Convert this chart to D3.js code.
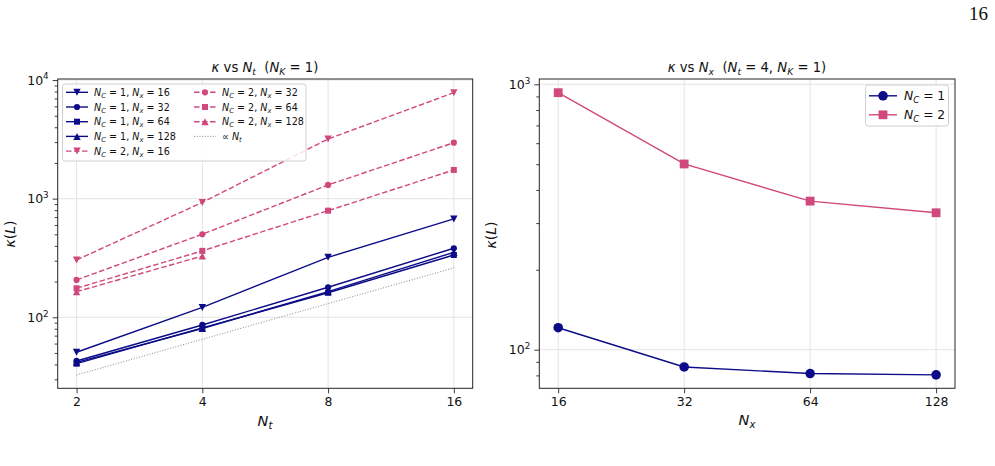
<!DOCTYPE html>
<html><head><meta charset="utf-8">
<script src="https://cdn.jsdelivr.net/npm/d3@7"></script>
<style>
body{margin:0;background:#fff;}
svg text{font-family:"DejaVu Sans",sans-serif;white-space:pre;}
</style></head>
<body><svg id="c" width="995" height="466"></svg>
<script>
// ---------- data ----------
const ntVals = [2, 4, 8, 16];
const ntTickLabels = ["2", "4", "8", "16"];
const nxVals = [16, 32, 64, 128];
const nxTickLabels = ["16", "32", "64", "128"];

// kappa(L) vs N_t, N_C = 1
const nc1_nx16  = [50.7, 121, 320, 675];
const nc1_nx32  = [42.8, 86.1, 179, 382];
const nc1_nx64  = [40.6, 81.3, 161, 335];
const nc1_nx128 = [41.7, 80.4, 164.5, 353];
// kappa(L) vs N_t, N_C = 2
const nc2_nx16  = [304, 930, 3184, 7834];
const nc2_nx32  = [206.5, 501, 1305, 2965];
const nc2_nx64  = [175.6, 363, 792, 1746];
const nc2_nx128 = [164.4, 328, null, null];
// reference line proportional to N_t
const propNt = [32.6, 65.2, 130.4, 260.8];

// kappa(L) vs N_x at N_t = 4
const nxSweepNC1 = [121, 86.1, 81.3, 80.4];
const nxSweepNC2 = [930, 501, 363, 328];

// ---------- style ----------
const NAVY = "#0c0c88", PINK = "#d0487c";
const svg = d3.select("#c");
svg.append("rect").attr("width",995).attr("height",466).attr("fill","#fff");

function mathText(g, parts, fs){
  let off = 0;
  parts.forEach(([s,t])=>{
    const ts = g.append("tspan").text(s);
    let target = 0, size = fs, it = false;
    if(t==="i"){it=true;}
    else if(t==="sub"){it=true;size=fs*0.7;target=fs*0.22;}
    else if(t==="sup"){size=fs*0.7;target=-fs*0.42;}
    ts.attr("font-size",size).attr("font-style",it?"italic":"normal");
    if(target!==off){ts.attr("dy",target-off); off=target;}
  });
  return g;
}

function symbol(g, type, cx, cy, s, color){
  if(type==="circle"){
    g.append("circle").attr("cx",cx).attr("cy",cy).attr("r",s/2).attr("fill",color);
  } else if(type==="square"){
    g.append("rect").attr("x",cx-s/2).attr("y",cy-s/2).attr("width",s).attr("height",s).attr("fill",color);
  } else if(type==="tdown"){
    const h=s*0.95;
    g.append("path").attr("d",`M${cx-s/2},${cy-h/2}L${cx+s/2},${cy-h/2}L${cx},${cy+h/2}Z`).attr("fill",color);
  } else if(type==="tup"){
    const h=s*0.95;
    g.append("path").attr("d",`M${cx-s/2},${cy+h/2}L${cx+s/2},${cy+h/2}L${cx},${cy-h/2}Z`).attr("fill",color);
  }
}

function yLabelFmt(sel){
  sel.selectAll(".tick text").each(function(d){
    const t=d3.select(this); t.text("");
    const e=Math.round(Math.log10(d));
    mathText(t,[["10","r"],[String(e),"sup"]],12.5);
  });
}

function frame(g,x0,x1,y0,y1){
  g.append("rect").attr("x",x0).attr("y",y0).attr("width",x1-x0).attr("height",y1-y0)
   .attr("fill","none").attr("stroke","#262626").attr("stroke-width",1);
}

function minorVals(domain){
  const out=[];
  const lo=Math.floor(Math.log10(domain[0])), hi=Math.ceil(Math.log10(domain[1]));
  for(let e=lo;e<=hi;e++) for(let m=2;m<=9;m++){const v=m*Math.pow(10,e); if(v>=domain[0]&&v<=domain[1]) out.push(v);}
  return out;
}
function majorVals(domain){
  const out=[];
  const lo=Math.ceil(Math.log10(domain[0])-1e-9), hi=Math.floor(Math.log10(domain[1])+1e-9);
  for(let e=lo;e<=hi;e++) out.push(Math.pow(10,e));
  return out;
}

function drawAxes(g, x, y, xVals, xLabels){
  const [X0,X1]=x.range(), [Y1,Y0]=y.range();
  const yMaj=majorVals(y.domain());
  g.append("g").selectAll("line").data(xVals).join("line")
    .attr("x1",d=>x(d)).attr("x2",d=>x(d)).attr("y1",Y0).attr("y2",Y1)
    .attr("stroke","#e4e4e4").attr("stroke-width",1);
  g.append("g").selectAll("line").data(yMaj).join("line")
    .attr("x1",X0).attr("x2",X1).attr("y1",d=>y(d)).attr("y2",d=>y(d))
    .attr("stroke","#e4e4e4").attr("stroke-width",1);
}
function drawTicks(g, x, y, xVals, xLabels){
  const [X0,X1]=x.range(), [Y1,Y0]=y.range();
  const yMaj=majorVals(y.domain()), yMin=minorVals(y.domain());
  g.append("g").attr("transform",`translate(0,${Y1})`)
    .call(d3.axisBottom(x).tickValues(xVals).tickFormat((d,i)=>xLabels[i]).tickSize(5).tickPadding(4));
  const ya=g.append("g").attr("transform",`translate(${X0},0)`)
    .call(d3.axisLeft(y).tickValues(yMaj).tickSize(5).tickPadding(4));
  g.append("g").attr("transform",`translate(${X0},0)`)
    .call(d3.axisLeft(y).tickValues(yMin).tickSize(3).tickFormat(""));
  g.selectAll(".domain").remove();
  g.selectAll(".tick line").attr("stroke","#262626").attr("stroke-width",0.9);
  g.selectAll(".tick text").attr("font-size",12.5).attr("fill","#111").attr("font-family","DejaVu Sans");
  yLabelFmt(ya);
}

// ---------- left panel ----------
const L = svg.append("g");
const xL = d3.scaleLog().base(2).domain([2*Math.pow(2,-0.15), 16*Math.pow(2,0.15)]).range([57.7,472.7]);
const yL = d3.scaleLog().domain([Math.pow(10,1.401), Math.pow(10,4.009)]).range([388.3,79]);
drawAxes(L,xL,yL,ntVals,ntTickLabels);

const leftSeries = [
  {vals:nc1_nx16, color:NAVY, dash:null, m:"tdown", lab:[["N","i"],["C","sub"],[" = 1, ","r"],["N","i"],["x","sub"],[" = 16","r"]]},
  {vals:nc1_nx32, color:NAVY, dash:null, m:"circle", lab:[["N","i"],["C","sub"],[" = 1, ","r"],["N","i"],["x","sub"],[" = 32","r"]]},
  {vals:nc1_nx64, color:NAVY, dash:null, m:"square", lab:[["N","i"],["C","sub"],[" = 1, ","r"],["N","i"],["x","sub"],[" = 64","r"]]},
  {vals:nc1_nx128, color:NAVY, dash:null, m:"tup", lab:[["N","i"],["C","sub"],[" = 1, ","r"],["N","i"],["x","sub"],[" = 128","r"]]},
  {vals:nc2_nx16, color:PINK, dash:"5.5,2.5", m:"tdown", lab:[["N","i"],["C","sub"],[" = 2, ","r"],["N","i"],["x","sub"],[" = 16","r"]]},
  {vals:nc2_nx32, color:PINK, dash:"5.5,2.5", m:"circle", lab:[["N","i"],["C","sub"],[" = 2, ","r"],["N","i"],["x","sub"],[" = 32","r"]]},
  {vals:nc2_nx64, color:PINK, dash:"5.5,2.5", m:"square", lab:[["N","i"],["C","sub"],[" = 2, ","r"],["N","i"],["x","sub"],[" = 64","r"]]},
  {vals:nc2_nx128, color:PINK, dash:"5.5,2.5", m:"tup", lab:[["N","i"],["C","sub"],[" = 2, ","r"],["N","i"],["x","sub"],[" = 128","r"]]},
  {vals:propNt, color:"#8a8a8a", dash:"1,1.7", m:null, lw:1, lab:[["∝ ","r"],["N","i"],["t","sub"]]}
];
const lineL = d3.line().defined(d=>d[1]!=null).x(d=>xL(d[0])).y(d=>yL(d[1]));
leftSeries.forEach(s=>{
  const pts = ntVals.map((n,i)=>[n,s.vals[i]]);
  L.append("path").attr("d",lineL(pts)).attr("fill","none").attr("stroke",s.color)
    .attr("stroke-width",s.lw||1.4).attr("stroke-dasharray",s.dash);
  if(s.m){
    const mg=L.append("g");
    pts.filter(p=>p[1]!=null).forEach(p=>symbol(mg,s.m,xL(p[0]),yL(p[1]),s.m==="circle"?6.2:(s.m==="square"?6:7.4),s.color));
  }
});
frame(L,57.7,472.7,79,388.3);
drawTicks(L,xL,yL,ntVals,ntTickLabels);

// left legend
const lg = L.append("g");
lg.append("rect").attr("x",62.5).attr("y",84).attr("width",243.5).attr("height",77).attr("rx",2.5)
  .attr("fill","#fff").attr("fill-opacity",0.85).attr("stroke","#d0d0d0").attr("stroke-width",1);
leftSeries.forEach((s,k)=>{
  const col = k<5?0:1, row = k<5?k:k-5;
  const hx = col===0?66:194, ty = 92.3+row*14.7, tx = col===0?94:222;
  lg.append("line").attr("x1",hx).attr("x2",hx+22).attr("y1",ty).attr("y2",ty)
    .attr("stroke",s.color).attr("stroke-width",s.lw||1.4).attr("stroke-dasharray",s.dash);
  if(s.m) symbol(lg,s.m,hx+11,ty,s.m==="circle"?6.2:(s.m==="square"?6:7.4),s.color);
  const t=lg.append("text").attr("x",tx).attr("y",ty+3.6).attr("fill","#111");
  mathText(t,s.lab,9.6);
});

// titles / labels left
mathText(L.append("text").attr("x",265).attr("y",72).attr("text-anchor","middle").attr("fill","#111"),
  [["κ","i"],[" vs ","r"],["N","i"],["t","sub"],["  (","r"],["N","i"],["K","sub"],[" = 1)","r"]],13.2);
mathText(L.append("text").attr("x",265).attr("y",426).attr("text-anchor","middle").attr("fill","#111"),
  [["N","i"],["t","sub"]],14.5);
mathText(L.append("text").attr("transform","translate(15,234) rotate(-90)").attr("text-anchor","middle").attr("fill","#111"),
  [["κ","i"],["(","r"],["L","i"],[")","r"]],14);

// ---------- right panel ----------
const R = svg.append("g");
const xR = d3.scaleLog().base(2).domain([16*Math.pow(2,-0.15),128*Math.pow(2,0.15)]).range([539.3,955]);
const yR = d3.scaleLog().domain([Math.pow(10,1.8545),Math.pow(10,3.020)]).range([388.3,79]);
drawAxes(R,xR,yR,nxVals,nxTickLabels);
const rightSeries=[
  {vals:nxSweepNC1,color:NAVY,m:"circle",size:9.6,lab:[["N","i"],["C","sub"],[" = 1","r"]]},
  {vals:nxSweepNC2,color:PINK,m:"square",size:8.8,lab:[["N","i"],["C","sub"],[" = 2","r"]]}
];
const lineR=d3.line().x(d=>xR(d[0])).y(d=>yR(d[1]));
rightSeries.forEach(s=>{
  const pts=nxVals.map((n,i)=>[n,s.vals[i]]);
  R.append("path").attr("d",lineR(pts)).attr("fill","none").attr("stroke",s.color).attr("stroke-width",1.4);
  const mg=R.append("g");
  pts.forEach(p=>symbol(mg,s.m,xR(p[0]),yR(p[1]),s.size,s.color));
});
frame(R,539.3,955,79,388.3);
drawTicks(R,xR,yR,nxVals,nxTickLabels);

const rg=R.append("g");
rg.append("rect").attr("x",865.5).attr("y",85).attr("width",83).attr("height",41).attr("rx",2.5)
  .attr("fill","#fff").attr("fill-opacity",0.85).attr("stroke","#d0d0d0").attr("stroke-width",1);
rightSeries.forEach((s,k)=>{
  const ty=95.8+k*19;
  rg.append("line").attr("x1",869).attr("x2",897).attr("y1",ty).attr("y2",ty).attr("stroke",s.color).attr("stroke-width",1.4);
  symbol(rg,s.m,883,ty,s.size,s.color);
  mathText(rg.append("text").attr("x",904).attr("y",ty+4.5).attr("fill","#111"),s.lab,12.3);
});

mathText(R.append("text").attr("x",747).attr("y",72).attr("text-anchor","middle").attr("fill","#111"),
  [["κ","i"],[" vs ","r"],["N","i"],["x","sub"],["  (","r"],["N","i"],["t","sub"],[" = 4, ","r"],["N","i"],["K","sub"],[" = 1)","r"]],13.2);
mathText(R.append("text").attr("x",747).attr("y",425).attr("text-anchor","middle").attr("fill","#111"),
  [["N","i"],["x","sub"]],14.5);
mathText(R.append("text").attr("transform","translate(496,235) rotate(-90)").attr("text-anchor","middle").attr("fill","#111"),
  [["κ","i"],["(","r"],["L","i"],[")","r"]],14);

// page number
svg.append("text").attr("x",988).attr("y",20).attr("text-anchor","end")
  .style("font-family","'Liberation Serif', 'DejaVu Serif', serif")
  .attr("font-size",19).attr("fill","#111").text("16");
</script></body></html>
